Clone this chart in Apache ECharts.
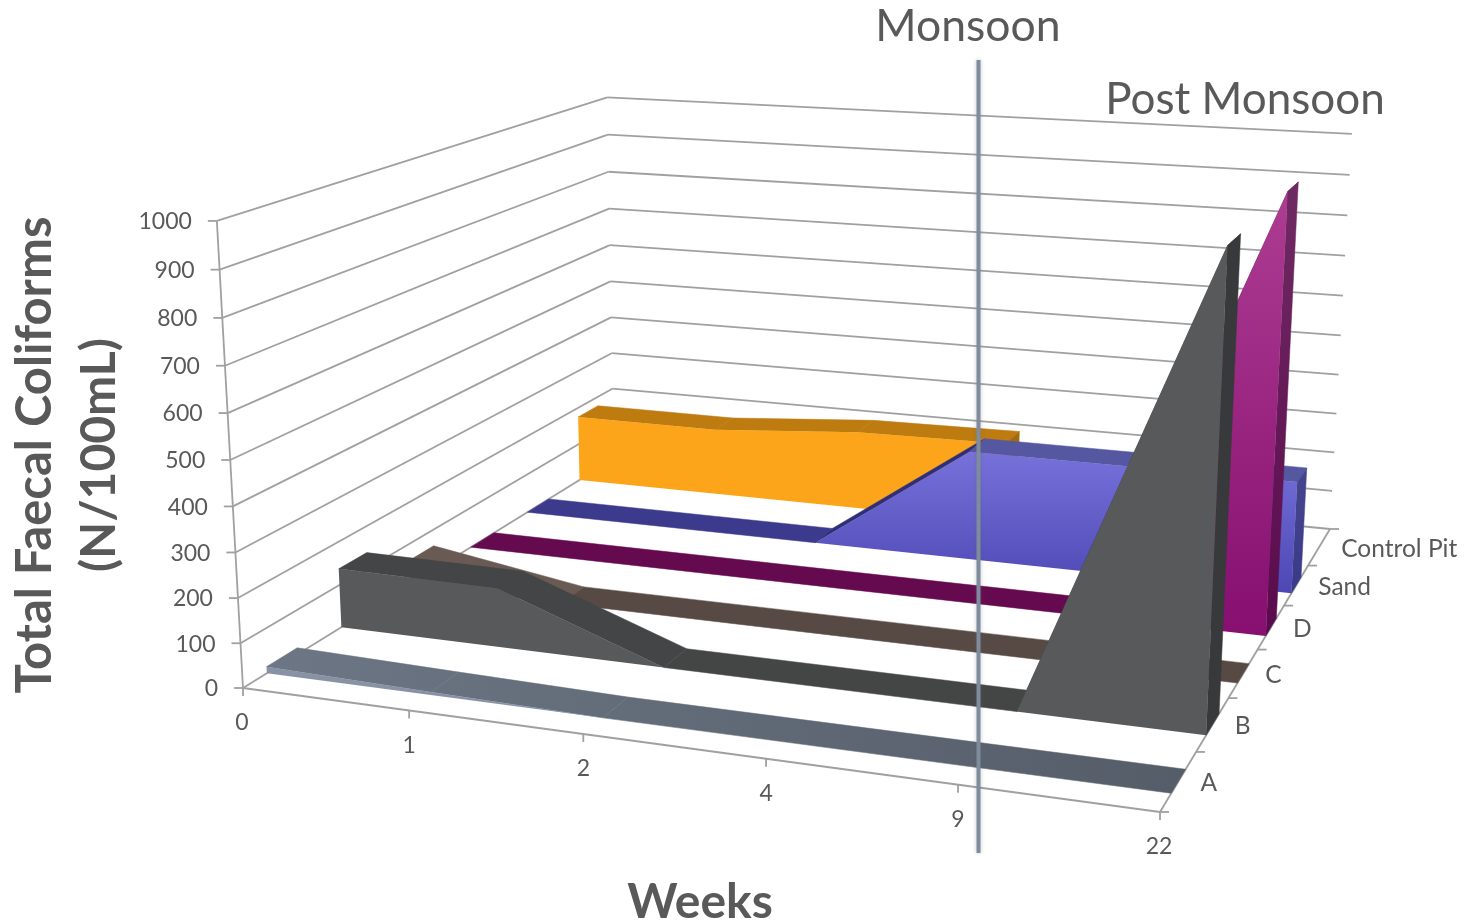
<!DOCTYPE html>
<html>
<head>
<meta charset="utf-8">
<style>html,body{margin:0;padding:0;background:#fff}#chart{width:1464px;height:922px}</style>
<script src="https://cdn.jsdelivr.net/npm/echarts@6/dist/echarts.min.js"></script>
</head>
<body>
<div id="chart"></div>
<script>
// Faecal coliform counts per filter medium and sampling week
const weeks = ['0', '1', '2', '4', '9', '22'];
const media = ['A', 'B', 'C', 'D', 'Sand', 'Control Pit'];
const valueTicks = [0, 100, 200, 300, 400, 500, 600, 700, 800, 900, 1000];

const mediumA = [15, 7, 0, 0, 0, 0];
const mediumB = [138, 136, 0, 0, 0, 1000];
const mediumC = [60, 0, 0, 0, 0, 0];
const mediumD = [0, 0, 0, 0, 0, 1000];
const sand = [0, 0, 0, 270, 270, 270];
const controlPit = [175, 175, 203, 208, null, null];

const GREY = '#595959';
const FONT = 'Lato, "Open Sans", sans-serif';
const AXIS = '#a0a0a0';
const GRID_W = 1000, GRID_H = 800;
const STRIP = 0.2; // half thickness of an area, in category bands

const vGrad = (a, b) => ({ type: 'linear', x: 0, y: 0, x2: 0, y2: 1, colorStops: [{ offset: 0, color: a }, { offset: 1, color: b }] });
const slate = { type: 'linear', x: 267, y: 0, x2: 1180, y2: 0, global: true, colorStops: [{ offset: 0, color: '#6c7684' }, { offset: 1, color: '#555d69' }] };

// Face colours drawn back to front
const layers = [
  { depth: 5, values: controlPit, front: '#fca41a', top: '#bd7b10', flat: '#bd7b10', rise: '#bd7b10', side: '#a56a0c' },
  { depth: 4, values: sand, front: vGrad('#7771da', '#4c47b3'), top: '#5557a1', flat: '#3c3a8c', rise: '#2f2f78', side: vGrad('#46468f', '#3a3988') },
  { depth: 3, values: mediumD, front: vGrad('#ad3c92', '#860f6f'), top: '#6e2560', flat: '#660a50', rise: '#6e2560', side: vGrad('#702a63', '#5a0a4c') },
  { depth: 2, values: mediumC, front: '#5c4f4a', top: '#6a5a54', flat: '#574a45', rise: '#6a5a54', side: '#4c403c' },
  { depth: 1, values: mediumB, front: '#58595b', top: '#444546', flat: '#444645', rise: '#444546', side: '#38393a' },
  { depth: 0, values: mediumA, front: '#8793a5', top: slate, flat: slate, rise: slate, side: '#4b525d' }
];

// Perspective camera: floor homography plus a least-squares vertical column
const floorCorners = [[243, 688], [1160, 812], [1330, 529], [613.5, 459]];
const topAnchors = [
  { u: 0, v: 0, p: [217, 220] },
  { u: 0, v: 1, p: [607, 97] },
  { u: 1, v: 1, p: [1352, 135] }
];
function buildCamera() {
  const [[x0, y0], [x1, y1], [x2, y2], [x3, y3]] = floorCorners;
  const dx1 = x1 - x2, dx2 = x3 - x2, dx3 = x0 - x1 + x2 - x3;
  const dy1 = y1 - y2, dy2 = y3 - y2, dy3 = y0 - y1 + y2 - y3;
  const den = dx1 * dy2 - dx2 * dy1;
  const g = (dx3 * dy2 - dx2 * dy3) / den, h = (dx1 * dy3 - dx3 * dy1) / den;
  const a = x1 - x0 + g * x1, b = x3 - x0 + h * x3, d = y1 - y0 + g * y1, e = y3 - y0 + h * y3;
  const base = (u, v) => [a * u + b * v + x0, d * u + e * v + y0, g * u + h * v + 1];
  // normal equations for the height column
  const M = [[0, 0, 0], [0, 0, 0], [0, 0, 0]], r = [0, 0, 0];
  topAnchors.forEach(({ u, v, p }) => {
    const [X, Y, Z] = base(u, v);
    [[[1, 0, -p[0]], p[0] * Z - X], [[0, 1, -p[1]], p[1] * Z - Y]].forEach(([row, rhs]) => {
      for (let i = 0; i < 3; i++) { r[i] += row[i] * rhs; for (let j = 0; j < 3; j++) M[i][j] += row[i] * row[j]; }
    });
  });
  for (let i = 0; i < 3; i++) {
    for (let k = i + 1; k < 3; k++) {
      const f = M[k][i] / M[i][i];
      for (let j = i; j < 3; j++) M[k][j] -= f * M[i][j];
      r[k] -= f * r[i];
    }
  }
  const w = [0, 0, 0];
  for (let i = 2; i >= 0; i--) {
    let s = r[i];
    for (let j = i + 1; j < 3; j++) s -= M[i][j] * w[j];
    w[i] = s / M[i][i];
  }
  return (u, v, t) => {
    const [X, Y, Z] = base(u, v);
    const W = Z + w[2] * t;
    return [(X + w[0] * t) / W, (Y + w[1] * t) / W];
  };
}
const camera = buildCamera();

// Map a (week, value) pair through the hidden cartesian scales, then into the scene
function project(api, week, value, v) {
  const c = api.coord([week, value]);
  return camera(c[0] / GRID_W, v, (GRID_H - c[1]) / GRID_H);
}
const bandPos = (d) => d / media.length;
const poly = (points, fill) => ({
  type: 'polygon', shape: { points },
  style: { fill, stroke: fill, lineWidth: 0.5 }
});
const line = (a, b, width) => ({
  type: 'line', shape: { x1: a[0], y1: a[1], x2: b[0], y2: b[1] },
  style: { stroke: AXIS, lineWidth: width || 1.8 }
});
const label = (p, text, align, size) => ({
  type: 'text',
  style: { x: p[0], y: p[1], text, fill: GREY, fontFamily: FONT, fontSize: size || 23, align, verticalAlign: 'middle' }
});

function renderFrame(params, api) {
  if (params.dataIndex !== 0) return null;
  const children = [];
  const last = weeks.length - 1;
  valueTicks.forEach((val) => {
    const front = project(api, 0, val, 0), back = project(api, 0, val, 1), right = project(api, last, val, 1);
    children.push(line(front, back), line(back, right));
    children.push(line(front, [front[0] - 9, front[1]]));
    children.push(label([front[0] - 25, front[1] + 1], String(val), 'right'));
  });
  children.push(line(project(api, 0, 0, 0), project(api, 0, 1000, 0)));
  children.push(line(project(api, 0, 0, 0), project(api, last, 0, 0)));
  children.push(line(project(api, last, 0, 0), project(api, last, 0, 1)));
  weeks.forEach((w, i) => {
    const p = project(api, i, 0, 0);
    children.push(line(p, [p[0], p[1] + 8]));
    children.push(label([p[0] + (i === 0 || i === weeks.length - 1 ? -1 : 0), p[1] + 35], w, 'center'));
  });
  media.forEach((m, d) => {
    const edge = project(api, last, 0, bandPos(d + 1));
    children.push(line(edge, [edge[0] + 9, edge[1]]));
    const mid = project(api, last, 0, bandPos(d + 0.5));
    children.push(label([mid[0] + 22, mid[1] + 2], m, 'left', 24.5));
  });
  const corner = project(api, last, 0, 0);
  children.push(line(corner, [corner[0] + 9, corner[1]]));
  return { type: 'group', children };
}

function renderLayer(layer) {
  return function (params, api) {
    if (params.dataIndex !== 0) return null;
    const n = params.dataInsideLength;
    const v0 = bandPos(layer.depth + 0.5 - STRIP), v1 = bandPos(layer.depth + 0.5 + STRIP);
    const pts = [];
    for (let i = 0; i < n; i++) pts.push({ week: api.value(0, i), val: api.value(1, i) });
    const children = [];
    // upper faces between weeks; runs of equal value become one face
    for (let i = 0; i + 1 < n;) {
      let j = i + 1;
      while (pts[j].val === pts[i].val && j + 1 < n && pts[j + 1].val === pts[i].val) j++;
      const a = pts[i], b = pts[j];
      const fill = a.val === b.val ? (a.val === 0 ? layer.flat : layer.top) : (b.val > a.val ? layer.rise : layer.top);
      children.push(poly([
        project(api, a.week, a.val, v0), project(api, b.week, b.val, v0),
        project(api, b.week, b.val, v1), project(api, a.week, a.val, v1)
      ], fill));
      i = j;
    }
    // closing face at the last week
    const end = pts[n - 1];
    if (end.val > 0) {
      children.push(poly([
        project(api, end.week, 0, v0), project(api, end.week, end.val, v0),
        project(api, end.week, end.val, v1), project(api, end.week, 0, v1)
      ], layer.side));
    }
    // front outline of the area
    if (pts.some((p) => p.val > 0)) {
      const outline = pts.map((p) => project(api, p.week, p.val, v0));
      outline.push(project(api, end.week, 0, v0));
      outline.push(project(api, pts[0].week, 0, v0));
      children.push({ type: 'polygon', shape: { points: outline }, style: { fill: layer.front } });
    }
    return { type: 'group', children };
  };
}

const toData = (values) => values.map((val, i) => [i, val]).filter((d) => d[1] !== null);

const chart = echarts.init(document.getElementById('chart'), null, { renderer: 'canvas' });
chart.setOption({
  animation: false,
  backgroundColor: '#fff',
  grid: { left: 0, top: 0, width: GRID_W, height: GRID_H, show: false },
  xAxis: { type: 'category', data: weeks, boundaryGap: false, show: false },
  yAxis: { type: 'value', min: 0, max: 1000, interval: 100, show: false },
  series: [
    { type: 'custom', silent: true, clip: false, z: 1, renderItem: renderFrame, data: [[0, 0]] }
  ].concat(layers.map((layer, i) => ({
    type: 'custom', silent: true, clip: false, z: 2 + i,
    name: media[layer.depth], renderItem: renderLayer(layer), data: toData(layer.values)
  }))),
  graphic: [
    { type: 'line', z: 50, shape: { x1: 978.5, y1: 60, x2: 978.5, y2: 853 },
      style: { stroke: '#7f8c9e', lineWidth: 4, shadowColor: 'rgba(90,90,90,0.35)', shadowBlur: 4 } },
    { type: 'text', z: 51, x: 968, y: 27, style: { text: 'Monsoon', fill: GREY, fontFamily: FONT, fontSize: 44.5, align: 'center', verticalAlign: 'middle' } },
    { type: 'text', z: 51, x: 1245, y: 100, style: { text: 'Post Monsoon', fill: GREY, fontFamily: FONT, fontSize: 44, align: 'center', verticalAlign: 'middle' } },
    { type: 'text', z: 51, x: 35, y: 455, rotation: Math.PI / 2, style: { text: 'Total Faecal Coliforms', fill: GREY, fontFamily: FONT, fontWeight: 'bold', fontSize: 49, align: 'center', verticalAlign: 'middle' } },
    { type: 'text', z: 51, x: 100, y: 455, rotation: Math.PI / 2, style: { text: '(N/100mL)', fill: GREY, fontFamily: FONT, fontWeight: 'bold', fontSize: 48, align: 'center', verticalAlign: 'middle' } },
    { type: 'text', z: 51, x: 700, y: 903, style: { text: 'Weeks', fill: GREY, fontFamily: FONT, fontWeight: 'bold', fontSize: 48, align: 'center', verticalAlign: 'middle' } }
  ]
});
</script>
</body>
</html>
